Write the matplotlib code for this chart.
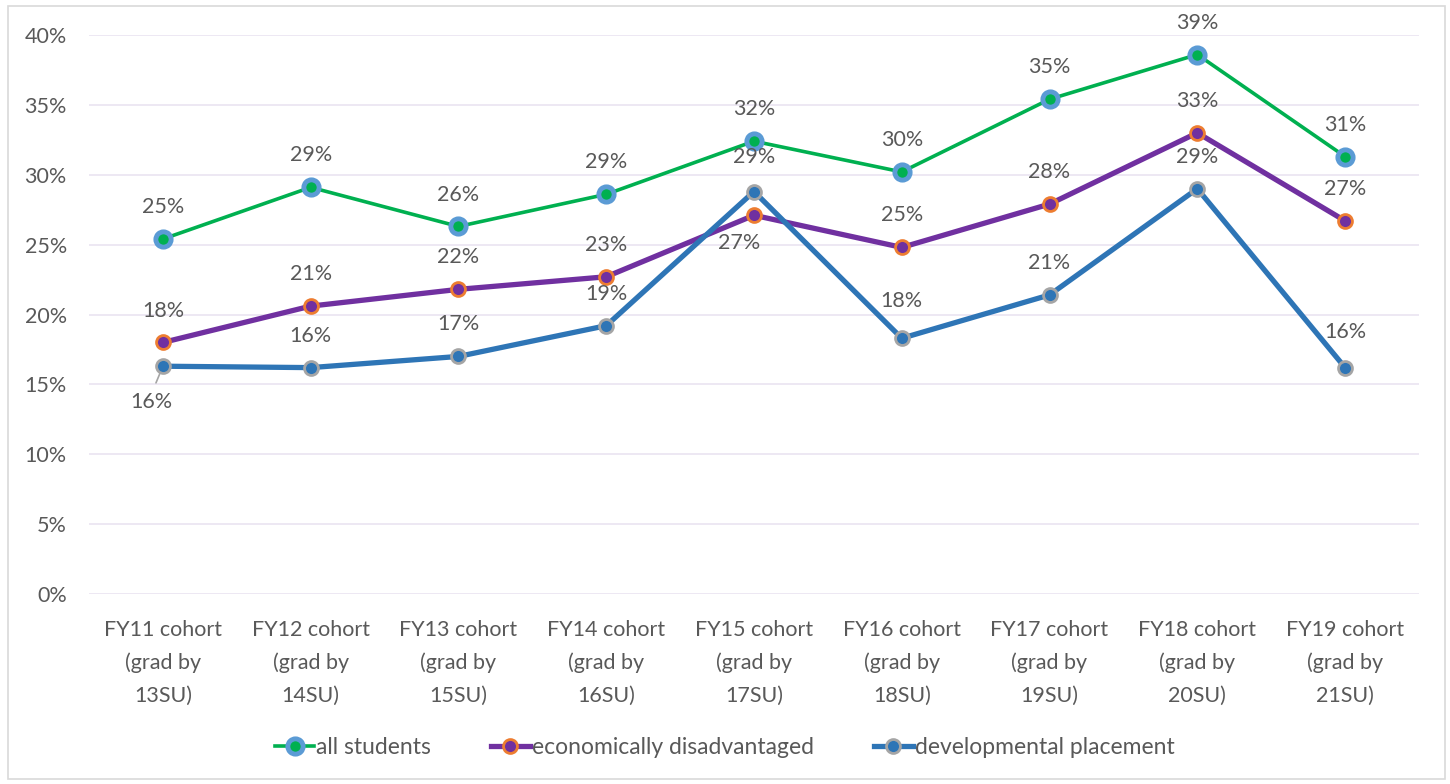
import matplotlib.pyplot as plt
import matplotlib.ticker as mtick
from matplotlib.patches import Rectangle

plt.rcParams['font.family'] = ['Lato', 'DejaVu Sans']

# data
cohorts = ["FY11 cohort\n(grad by\n13SU)", "FY12 cohort\n(grad by\n14SU)", "FY13 cohort\n(grad by\n15SU)",
           "FY14 cohort\n(grad by\n16SU)", "FY15 cohort\n(grad by\n17SU)", "FY16 cohort\n(grad by\n18SU)",
           "FY17 cohort\n(grad by\n19SU)", "FY18 cohort\n(grad by\n20SU)", "FY19 cohort\n(grad by\n21SU)"]
all_students = [25.4, 29.1, 26.3, 28.6, 32.4, 30.2, 35.4, 38.6, 31.3]
econ_disadv = [18.0, 20.6, 21.8, 22.7, 27.1, 24.8, 27.9, 33.0, 26.7]
dev_placement = [16.3, 16.2, 17.0, 19.2, 28.8, 18.3, 21.4, 29.0, 16.2]

text_col = '#595959'

fig = plt.figure(figsize=(14.5, 7.84), dpi=100)
ax = fig.add_axes([0.0614, 0.2423, 0.9172, 0.7131])
fig.patches.append(Rectangle((0.0055, 0.006), 0.991, 0.986, transform=fig.transFigure,
                             fill=False, edgecolor='#D9D9D9', linewidth=1.2))

x = range(len(cohorts))
ax.plot(x, [v / 100 for v in all_students], color='#00B050', lw=2.6, marker='o', ms=11,
        mfc='#00B050', mec='#5B9BD5', mew=3.5, label='all students', zorder=3)
ax.plot(x, [v / 100 for v in econ_disadv], color='#7030A0', lw=3.8, marker='o', ms=10,
        mfc='#7030A0', mec='#ED7D31', mew=2, label='economically disadvantaged', zorder=4)
ax.plot(x, [v / 100 for v in dev_placement], color='#2E75B6', lw=3.8, marker='o', ms=10,
        mfc='#2E75B6', mec='#A5A5A5', mew=2, label='developmental placement', zorder=5)


def put_labels(vals, offsets):
    for i, v in enumerate(vals):
        dx, dy = offsets.get(i, (0, 23))
        ax.annotate(f"{round(v)}%", (i, v / 100), xytext=(dx, dy), textcoords='offset points',
                    ha='center', va='center', fontsize=15.5, color=text_col, zorder=6)


put_labels(all_students, {})
put_labels(econ_disadv, {4: (-11, -20)})
put_labels(dev_placement, {0: (-8, -26), 4: (0, 25), 5: (0, 27), 8: (0, 26)})
ax.annotate("", (0, dev_placement[0] / 100), xytext=(-5, -12), textcoords='offset points',
            arrowprops=dict(arrowstyle='-', color='#A5A5A5', lw=1.2, shrinkA=0, shrinkB=2), zorder=2)

ax.set_xlim(-0.5, len(cohorts) - 0.5)
ax.set_ylim(0, 0.40)
ax.yaxis.set_major_locator(mtick.MultipleLocator(0.05))
ax.yaxis.set_major_formatter(mtick.PercentFormatter(1.0, decimals=0))
ax.set_xticks(list(x))
ax.set_xticklabels(cohorts, linespacing=1.75)
ax.tick_params(axis='both', length=0, labelsize=15.5, labelcolor=text_col)
ax.tick_params(axis='y', pad=16)
ax.tick_params(axis='x', pad=19)
ax.grid(axis='y', color='#EAE4F1', lw=1.2)
ax.set_axisbelow(True)
for s in ax.spines.values():
    s.set_visible(False)

fig.legend(loc='center', bbox_to_anchor=(0.5, 0.047), ncol=3, frameon=False, fontsize=16.5,
           labelcolor=text_col, handlelength=1.7, handletextpad=0.1, columnspacing=2.6)

plt.savefig("out.png", dpi=100)
